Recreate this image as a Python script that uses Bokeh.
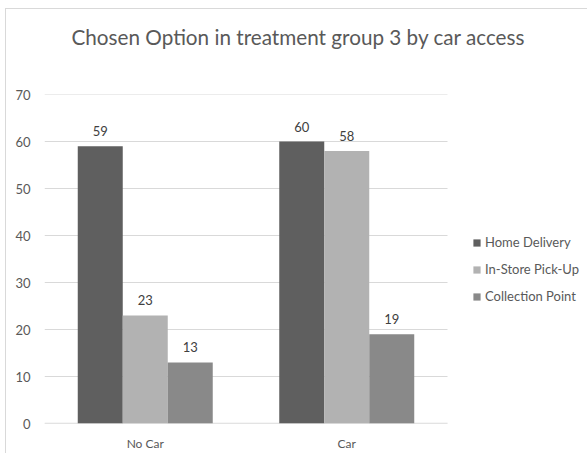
from bokeh.plotting import figure
from bokeh.models import ColumnDataSource, Legend, LegendItem, FixedTicker, Range1d, Title
from bokeh.core.properties import value
from bokeh.embed import file_html
from bokeh.resources import INLINE

categories = ["No Car", "Car"]
series = ["Home Delivery", "In-Store Pick-Up", "Collection Point"]
home_delivery = [59, 60]
in_store = [23, 58]
collection = [13, 19]
y_ticks = [0, 10, 20, 30, 40, 50, 60, 70]

colors = ["#5f5f5f", "#b2b2b2", "#898989"]
FONT = "Lato"
bar_w = 0.2233
offsets = [-bar_w, 0.0, bar_w]
n = len(categories)
centers = [i + 0.5 for i in range(n)]

# plot area spans 403 px for the categories; frame extends right to hold the legend
W, H = 582, 445
left_b, top_b, bottom_b = 38, 85, 31
cat_px = 403.0
frame_w = W - left_b
x_max = n * frame_w / cat_px

p = figure(width=W, height=H, output_backend="svg", toolbar_location=None,
           x_range=Range1d(0, x_max), y_range=Range1d(0, 70),
           min_border_left=left_b, min_border_right=0, min_border_bottom=bottom_b,
           min_border_top=top_b)
p.styles = {"margin-left": "5px", "margin-top": "8px",
            "border-left": "1px solid #d9d9d9", "border-top": "1px solid #d9d9d9"}
p.outline_line_color = None
p.background_fill_color = "white"
p.border_fill_color = "white"

# empty spacer panel between the title and the plot area
p.add_layout(Title(text=" ", text_font_size="1px", standoff=43), "above")

p.title.text = "Chosen Option in treatment group 3 by car access"
p.title.text_font = FONT
p.title.text_font_size = "20.7px"
p.title.text_font_style = "normal"
p.title.text_color = "#595959"
p.title.align = "left"
p.title.vertical_align = "bottom"
p.title.offset = 27
p.title.standoff = 0

# horizontal gridlines and baseline limited to the category area
p.segment(x0=[0] * len(y_ticks), x1=[n] * len(y_ticks), y0=y_ticks, y1=y_ticks,
          line_color="#d9d9d9", line_width=1)
p.segment(x0=[0], x1=[n], y0=[0], y1=[0], line_color="#d9d9d9", line_width=1.3)

items = []
for vals, name, col, off in zip([home_delivery, in_store, collection], series, colors, offsets):
    src = ColumnDataSource(dict(x=[c + off for c in centers], top=vals,
                                lab=[str(v) for v in vals]))
    r = p.vbar(x="x", top="top", bottom=0, width=bar_w, source=src,
               fill_color=col, line_color=None)
    p.text(x="x", y="top", text="lab", source=src, text_align="center",
           text_baseline="bottom", y_offset=-10, text_font=value(FONT),
           text_font_size="13px", text_color="#404040")
    items.append(LegendItem(label=name, renderers=[r]))

legend = Legend(items=items, location=(428, 117), orientation="vertical",
                glyph_width=9, glyph_height=9, label_height=20, spacing=7,
                label_standoff=4, padding=0, margin=0,
                label_text_font=FONT, label_text_font_size="13px",
                label_text_color="#595959", border_line_color=None,
                background_fill_alpha=0)
p.add_layout(legend, "center")

for ax in (p.xaxis, p.yaxis):
    ax.axis_line_color = None
    ax.major_tick_line_color = None
    ax.minor_tick_line_color = None
    ax.major_tick_out = 0
    ax.major_tick_in = 0
    ax.minor_tick_out = 0
    ax.minor_tick_in = 0
    ax.major_label_text_font = FONT
    ax.major_label_text_color = "#595959"

p.xaxis.ticker = FixedTicker(ticks=centers)
p.xaxis.major_label_overrides = {c: lab for c, lab in zip(centers, categories)}
p.xaxis.major_label_standoff = 12
p.xaxis.major_label_text_font_size = "12px"
p.xgrid.grid_line_color = None

p.yaxis.ticker = FixedTicker(ticks=y_ticks)
p.yaxis.major_label_standoff = 14
p.yaxis.major_label_text_font_size = "13px"
p.ygrid.grid_line_color = None

open("out.html", "w").write(file_html(p, INLINE))
